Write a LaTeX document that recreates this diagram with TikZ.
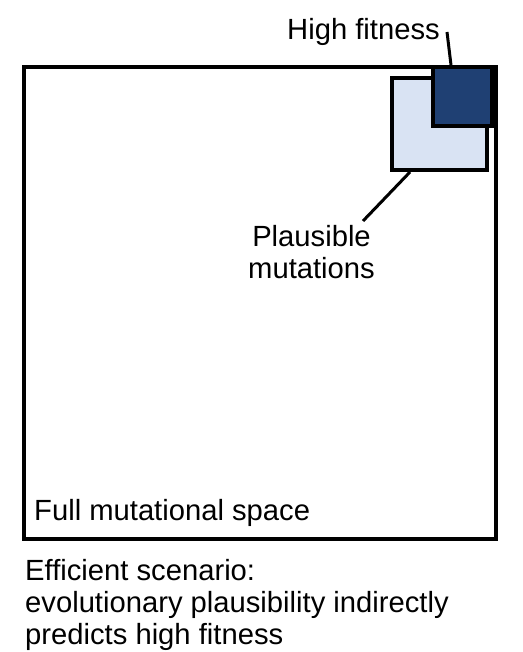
\documentclass[tikz,border=0pt]{standalone}
\usepackage{fontspec}
\setmainfont{Liberation Sans}
\definecolor{darkfit}{RGB}{31,64,115}
\definecolor{lightplaus}{RGB}{217,227,243}
\begin{document}
\begin{tikzpicture}[x=1pt,y=-1pt,
  txt/.style={inner sep=0pt,font=\fontsize{29.2}{32}\selectfont},
  border/.style={draw=black,line width=4pt},
  leader/.style={draw=black,line width=3pt}]
\useasboundingbox (0,0) rectangle (522,652);
% full space
\node[border,minimum width=472pt,minimum height=472pt,inner sep=0pt,anchor=north west] (full) at (22,65) {};
% plausible
\node[border,fill=lightplaus,minimum width=95pt,minimum height=92pt,inner sep=0pt,anchor=north west] (plaus) at (390,76) {};
% high fitness
\node[border,fill=darkfit,minimum width=59pt,minimum height=59pt,inner sep=0pt,anchor=north east] (fit) at (494,65) {};
% labels
\node[txt,anchor=base west] (fitlab) at (287,40) {High fitness};
\node[txt,anchor=base] (plab1) at (311.5,246) {Plausible};
\node[txt,anchor=base] (plab2) at (311.5,278) {mutations};
\node[txt,anchor=base west] (fulllab) at (34,520) {Full mutational space};
\node[txt,anchor=base west] (cap1) at (25,580) {Efficient scenario:};
\node[txt,anchor=base west] (cap2) at (25,612) {evolutionary plausibility indirectly};
\node[txt,anchor=base west] (cap3) at (25,644) {predicts high fitness};
% leaders
\coordinate (fitend) at (447,32);
\coordinate (plausend) at (363,221);
\draw[leader] (fitend) -- ([xshift=20pt]fit.north west);
\draw[leader] ([xshift=20pt]plaus.south west) -- (plausend);
\end{tikzpicture}
\end{document}
